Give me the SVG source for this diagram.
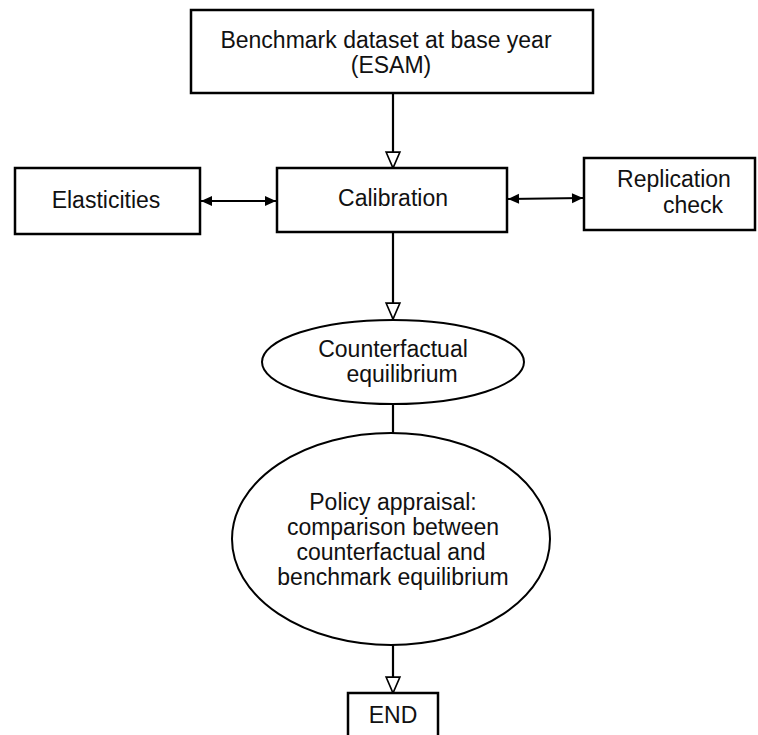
<svg xmlns="http://www.w3.org/2000/svg" width="758" height="735" viewBox="0 0 758 735">
<style>
.box{fill:#fff;stroke:#000;stroke-width:2.5}
.ell{fill:#fff;stroke:#000;stroke-width:2}
.t{font-family:"Liberation Sans",Arial,sans-serif;font-size:23px;fill:#111;text-anchor:middle}
.c{fill:none;stroke:#000;stroke-width:2.2}
</style>
<defs>
<marker id="open" markerUnits="userSpaceOnUse" markerWidth="20" markerHeight="20" viewBox="-2 -9 19 18" refX="15" refY="0" orient="auto">
<path d="M0,-6.5 L15,0 L0,6.5 Z" fill="#fff" stroke="#000" stroke-width="1.6"/>
</marker>
<marker id="solid" markerUnits="userSpaceOnUse" markerWidth="14" markerHeight="12" viewBox="0 -6 12 12" refX="11" refY="0" orient="auto-start-reverse">
<path d="M0,-5 L11,0 L0,5 Z" fill="#000"/>
</marker>
</defs>
<rect width="758" height="735" fill="#fff"/>
<g id="connectors">
<line class="c" x1="393" y1="93" x2="393" y2="168" marker-end="url(#open)"/>
<line class="c" x1="201" y1="201" x2="276" y2="201" marker-start="url(#solid)" marker-end="url(#solid)"/>
<line class="c" x1="508" y1="199" x2="583" y2="198" marker-start="url(#solid)" marker-end="url(#solid)"/>
<line class="c" x1="393" y1="232" x2="393" y2="319" marker-end="url(#open)"/>
<line class="c" x1="393" y1="404" x2="393" y2="433"/>
<line class="c" x1="393" y1="645" x2="393" y2="693" marker-end="url(#open)"/>
</g>
<g id="benchmark">
<rect class="box" x="191" y="10" width="402" height="83"/>
<text class="t" x="386" y="48">Benchmark dataset at base year</text>
<text class="t" x="391" y="73">(ESAM)</text>
</g>
<g id="elasticities">
<rect class="box" x="15" y="168" width="185" height="66"/>
<text class="t" x="106" y="208">Elasticities</text>
</g>
<g id="calibration">
<rect class="box" x="277" y="168" width="230" height="64"/>
<text class="t" x="393" y="206">Calibration</text>
</g>
<g id="replication">
<rect class="box" x="584" y="158" width="171" height="72"/>
<text class="t" x="674" y="187">Replication</text>
<text class="t" x="693" y="213">check</text>
</g>
<g id="counterfactual">
<ellipse class="ell" cx="393" cy="362" rx="131" ry="42"/>
<text class="t" x="393" y="357">Counterfactual</text>
<text class="t" x="402" y="382">equilibrium</text>
</g>
<g id="policy">
<ellipse class="ell" cx="391" cy="539" rx="159" ry="106"/>
<text class="t" x="393" y="510">Policy appraisal:</text>
<text class="t" x="393" y="535">comparison between</text>
<text class="t" x="391" y="560">counterfactual and</text>
<text class="t" x="393" y="585">benchmark equilibrium</text>
</g>
<g id="end">
<rect class="box" x="348" y="693" width="90" height="50"/>
<text class="t" x="393" y="723">END</text>
</g>
</svg>
